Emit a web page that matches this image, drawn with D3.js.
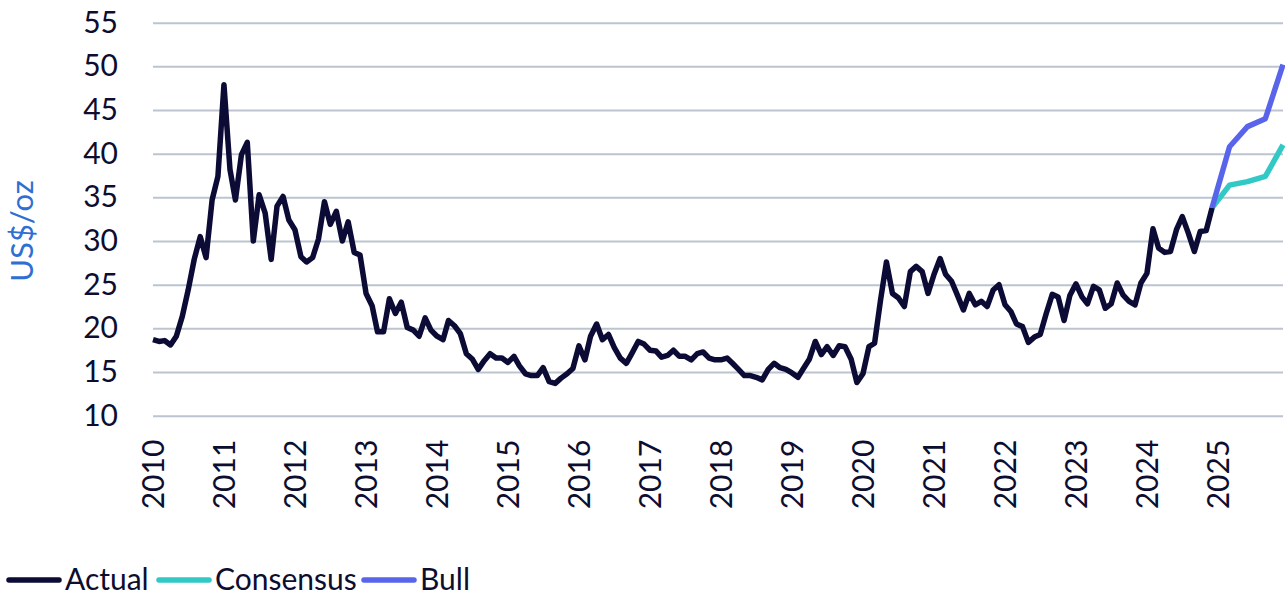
<!DOCTYPE html>
<html>
<head>
<meta charset="utf-8">
<script src="https://cdn.jsdelivr.net/npm/d3@7"></script>
<style>
  body { margin: 0; background: #fff; }
  text { font-family: Lato, "Open Sans", sans-serif; }
</style>
</head>
<body>
<div id="chart"></div>
<script>
// monthly actual prices, Jan 2010 .. Dec 2024 (US$/oz)
let actual = [
  18.7, 18.5, 18.6, 18.1, 19.1, 21.4, 24.4, 27.9, 30.5, 28.1, 34.7, 37.4,
  47.9, 38.2, 34.7, 39.9, 41.3, 30.0, 35.3, 33.2, 27.9, 34.0, 35.1, 32.4,
  31.3, 28.2, 27.6, 28.1, 30.2, 34.5, 31.9, 33.4, 30.0, 32.2, 28.7, 28.4,
  24.0, 22.6, 19.6, 19.6, 23.4, 21.7, 23.0, 20.1, 19.8, 19.1, 21.2, 19.8,
  19.1, 18.7, 20.9, 20.3, 19.4, 17.1, 16.5, 15.3, 16.3, 17.1, 16.6, 16.6,
  16.1, 16.8, 15.7, 14.8, 14.6, 14.6, 15.5, 13.9, 13.7, 14.3, 14.8, 15.4,
  18.0, 16.4, 19.1, 20.5, 18.7, 19.3, 17.8, 16.6, 16.0, 17.2, 18.5, 18.2,
  17.5, 17.4, 16.7, 16.9, 17.5, 16.8, 16.8, 16.4, 17.1, 17.3, 16.6, 16.4,
  16.4, 16.6, 16.0, 15.3, 14.6, 14.6, 14.4, 14.1, 15.3, 16.0, 15.5, 15.3,
  14.9, 14.4, 15.4, 16.5, 18.5, 17.0, 17.9, 16.9, 18.0, 17.9, 16.5, 13.8,
  14.8, 17.9, 18.3, 23.3, 27.6, 24.0, 23.5, 22.5, 26.5, 27.1, 26.5, 24.0,
  26.2, 28.0, 26.2, 25.4, 23.8, 22.1, 24.0, 22.7, 23.1, 22.5, 24.4, 25.0,
  22.7, 21.9, 20.5, 20.2, 18.4, 19.0, 19.3, 21.7, 23.9, 23.6, 20.9, 23.8,
  25.1, 23.6, 22.8, 24.8, 24.4, 22.3, 22.8, 25.2, 23.8, 23.1, 22.7, 25.2,
  26.3, 31.4, 29.2, 28.7, 28.8, 31.3, 32.8, 30.9, 28.8, 31.1, 31.2, 33.8
];

// quarterly forecast path, starting from the last actual month
let forecastMonths = ["2024-12", "2025-03", "2025-06", "2025-09", "2025-12"];
let consensus = [33.8, 36.4, 36.8, 37.4, 41.0];
let bull = [33.8, 40.8, 43.1, 44.0, 50.2];

let yTicks = [10, 15, 20, 25, 30, 35, 40, 45, 50, 55];
let yearLabels = ["2010", "2011", "2012", "2013", "2014", "2015", "2016", "2017",
  "2018", "2019", "2020", "2021", "2022", "2023", "2024", "2025"];

let seriesNames = ["Actual", "Consensus", "Bull"];
let seriesColors = ["#0b0b36", "#32c8c6", "#5865eb"];

let W = 1285, H = 598;
let plotL = 153, plotR = 1283, plotT = 22.7, plotB = 415.7;

let parseMonth = d3.timeParse("%Y-%m");
let actualDates = d3.timeMonth.range(new Date(2010, 0, 1), new Date(2025, 0, 1));
let fcDates = forecastMonths.map(parseMonth);

let svg = d3.select("#chart").append("svg")
    .attr("width", W)
    .attr("height", H);

let x = d3.scaleTime()
    .domain([new Date(2010, 0, 1), new Date(2025, 11, 1)])
    .range([plotL, plotR]);

let y = d3.scaleLinear()
    .domain([10, 55])
    .range([plotB, plotT]);

// gridlines + y labels
let yAxis = svg.append("g")
    .attr("transform", "translate(" + plotL + ",0)")
    .call(d3.axisLeft(y).tickValues(yTicks).tickSize(-(plotR - plotL)).tickPadding(35));
yAxis.select(".domain").remove();
yAxis.selectAll("line").attr("stroke", "#bcc5cf").attr("stroke-width", 2);
yAxis.selectAll("text")
    .attr("fill", "#0d0d30")
    .style("font-size", "30px");

// x labels (rotated)
let xAxis = svg.append("g")
    .attr("transform", "translate(0," + plotB + ")")
    .call(d3.axisBottom(x)
        .tickValues(yearLabels.map(function(d) { return new Date(+d, 0, 1); }))
        .tickFormat(d3.timeFormat("%Y"))
        .tickSize(0));
xAxis.select(".domain").remove();
xAxis.selectAll("text")
    .attr("fill", "#0d0d30")
    .style("font-size", "30px")
    .attr("y", 0)
    .attr("x", -24)
    .attr("dy", "0.36em")
    .attr("transform", "rotate(-90)")
    .style("text-anchor", "end");

// y title
svg.append("text")
    .attr("transform", "translate(33,231) rotate(-90)")
    .attr("text-anchor", "middle")
    .attr("fill", "#2f6fd3")
    .style("font-size", "31px")
    .text("US$/oz");

let line = d3.line()
    .x(function(d) { return x(d[0]); })
    .y(function(d) { return y(d[1]); });

let pair = function(dates, vals) {
    return vals.map(function(v, i) { return [dates[i], v]; });
};

svg.append("path")
    .datum(pair(fcDates, consensus))
    .attr("fill", "none")
    .attr("stroke", seriesColors[1])
    .attr("stroke-width", 5.5)
    .attr("stroke-linejoin", "round")
    .attr("d", line);

svg.append("path")
    .datum(pair(fcDates, bull))
    .attr("fill", "none")
    .attr("stroke", seriesColors[2])
    .attr("stroke-width", 5.5)
    .attr("stroke-linejoin", "round")
    .attr("d", line);

svg.append("path")
    .datum(pair(actualDates, actual))
    .attr("fill", "none")
    .attr("stroke", seriesColors[0])
    .attr("stroke-width", 5.5)
    .attr("stroke-linejoin", "round")
    .attr("d", line);

// legend
let legendX = [7, 157, 362];
let lg = svg.append("g").attr("transform", "translate(0,580)");
seriesNames.forEach(function(name, i) {
    lg.append("line")
        .attr("x1", legendX[i] + 2).attr("x2", legendX[i] + 52)
        .attr("y1", 0).attr("y2", 0)
        .attr("stroke", seriesColors[i])
        .attr("stroke-width", 5.5)
        .attr("stroke-linecap", "round");
    lg.append("text")
        .attr("x", legendX[i] + 58)
        .attr("y", 10)
        .attr("fill", "#0d0d30")
        .style("font-size", "30px")
        .text(name);
});
</script>
</body>
</html>
